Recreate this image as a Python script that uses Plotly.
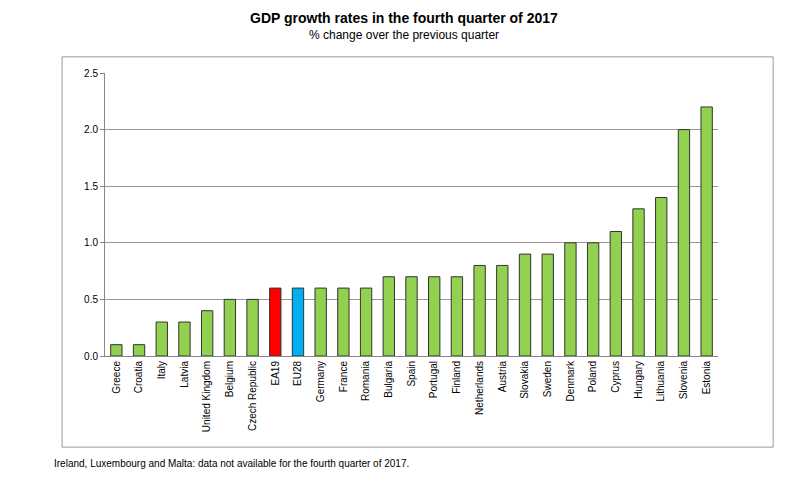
import plotly.graph_objects as go

countries = ["Greece","Croatia","Italy","Latvia","United Kingdom","Belgium","Czech Republic","EA19","EU28",
             "Germany","France","Romania","Bulgaria","Spain","Portugal","Finland","Netherlands","Austria",
             "Slovakia","Sweden","Denmark","Poland","Cyprus","Hungary","Lithuania","Slovenia","Estonia"]
values = [0.1,0.1,0.3,0.3,0.4,0.5,0.5,0.6,0.6,0.6,0.6,0.6,0.7,0.7,0.7,0.7,0.8,0.8,0.9,0.9,1.0,1.0,1.1,1.3,1.4,2.0,2.2]
colors = ["#ff0000" if c=="EA19" else "#00b0f0" if c=="EU28" else "#92d050" for c in countries]

fig = go.Figure(go.Bar(x=countries, y=values, marker=dict(color=colors, line=dict(color="#333333", width=1)), width=0.5))
fig.update_layout(
    width=787, height=479, paper_bgcolor="white", plot_bgcolor="white",
    margin=dict(l=97, r=77, t=65, b=131),
    font=dict(family="Liberation Sans, Arial", color="black", size=10),
    showlegend=False,
    annotations=[
        dict(text="<b>GDP growth rates in the fourth quarter of 2017</b>", x=0.5, y=1, xref="paper", yref="paper",
             xanchor="center", yanchor="bottom", yshift=45, showarrow=False, font=dict(size=14), xshift=-8),
        dict(text="% change over the previous quarter", x=0.5, y=1, xref="paper", yref="paper",
             xanchor="center", yanchor="bottom", yshift=29, showarrow=False, font=dict(size=12), xshift=-8),
        dict(text="Ireland, Luxembourg and Malta: data not available for the fourth quarter of 2017.", x=-0.087,
             y=-0.38, xref="paper", yref="paper", showarrow=False, font=dict(size=10), xanchor="left", yanchor="middle"),
    ],
    shapes=[dict(type="rect", xref="paper", yref="paper", x0=-0.07, x1=1.09, y0=-0.322, y1=1.057,
                 line=dict(color="#999999", width=1))],
)
fig.update_xaxes(tickangle=-90, showline=True, linecolor="#888888", ticks="outside", tickcolor="#888888", ticklen=0)
fig.update_yaxes(range=[0,2.5], dtick=0.5, tickformat=".1f", showgrid=True, gridcolor="#999999",
                 showline=True, linecolor="#888888", ticks="outside", tickcolor="#888888", ticklen=4)
fig.write_html("out.html")
